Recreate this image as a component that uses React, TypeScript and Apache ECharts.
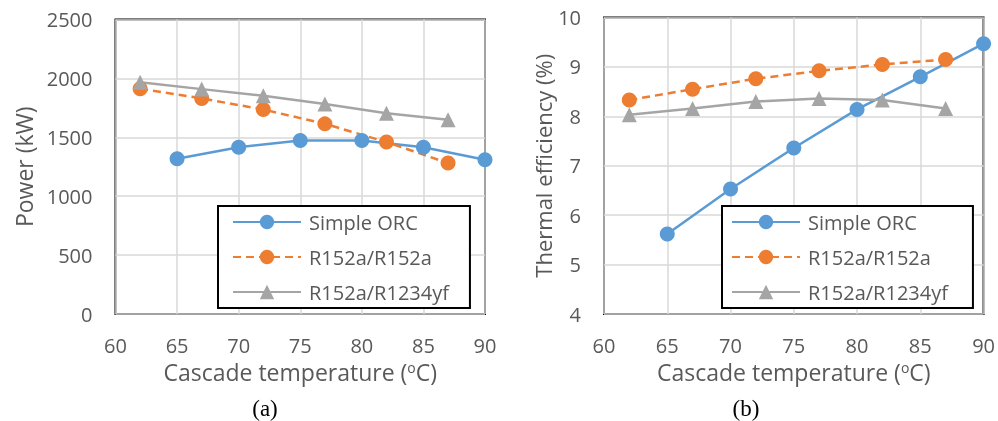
import React, { useEffect, useRef } from "react";
import * as echarts from "echarts";

const orcTemps = [65, 70, 75, 80, 85, 90];
const cascadeTemps = [62, 67, 72, 77, 82, 87];

const powerORC = [1318, 1416, 1472, 1472, 1416, 1310];
const powerR152a = [1912, 1830, 1736, 1614, 1460, 1281];
const powerR1234yf = [1968, 1909, 1852, 1783, 1704, 1648];

const effORC = [5.62, 6.53, 7.36, 8.14, 8.8, 9.47];
const effR152a = [8.33, 8.55, 8.76, 8.92, 9.05, 9.15];
const effR1234yf = [8.03, 8.16, 8.3, 8.36, 8.33, 8.16];

const seriesNames = ["Simple ORC", "R152a/R152a", "R152a/R1234yf"];
const colors = ["#5B9BD5", "#ED7D31", "#A5A5A5"];
const panelLabels = ["(a)", "(b)"];

const FONT = "'Open Sans', Lato, sans-serif";
const TXT = "#595959";

const pairs = (xs: number[], ys: number[]) => xs.map((x, i) => [x, ys[i]]);

export default function App() {
  const ref = useRef<HTMLDivElement>(null);
  useEffect(() => {
    if (!ref.current) return;
    const chart = echarts.init(ref.current, null, { renderer: "svg" });

    const xAxisBase = (gridIndex: number) => ({
      type: "value",
      gridIndex,
      min: 60,
      max: 90,
      interval: 5,
      axisLine: { show: false },
      axisTick: { show: false },
      splitLine: { show: true, lineStyle: { color: "#D9D9D9", width: 1.5 } },
      axisLabel: { color: TXT, fontSize: 20, fontFamily: FONT, margin: 21 },
      name: "Cascade temperature ({sup|o}C)",
      nameLocation: "middle",
      nameGap: 46,
      nameTextStyle: {
        color: TXT,
        fontSize: 23,
        fontFamily: FONT,
        rich: {
          sup: { fontSize: 14, color: TXT, fontFamily: FONT, verticalAlign: "top", padding: [0, 0, 10, 0] },
        },
      },
    });

    const lineSeries = (name: string, idx: number, gi: number, data: number[][], symbol: string, dashed: boolean) => ({
      type: "line",
      name,
      xAxisIndex: gi,
      yAxisIndex: gi,
      data,
      symbol,
      symbolSize: 15,
      showSymbol: true,
      itemStyle: { color: colors[idx] },
      lineStyle: { color: colors[idx], width: 2.5, type: dashed ? [8, 5] : "solid" },
      emphasis: { disabled: true },
    });

    const legendBase = (left: number, padLeft: number, textWidth: number, padRight: number) => ({
      orient: "vertical",
      left,
      top: 206,
      backgroundColor: "#fff",
      borderColor: "#000",
      borderWidth: 2,
      padding: [6, padRight, 6, padLeft],
      itemGap: 15,
      itemWidth: 68,
      itemHeight: 18,
      textStyle: { color: TXT, fontSize: 20, fontFamily: FONT, width: textWidth, padding: [0, 0, 0, 3] },
      data: seriesNames,
      selectedMode: false,
    });

    chart.setOption({
      animation: false,
      grid: [
        { left: 115.5, top: 19.5, width: 369.5, height: 294.5, show: true, borderColor: "#000", borderWidth: 2, backgroundColor: "transparent" },
        { left: 604, top: 17.5, width: 381, height: 296.5, show: true, borderColor: "#000", borderWidth: 2, backgroundColor: "transparent" },
      ],
      xAxis: [xAxisBase(0), xAxisBase(1)],
      yAxis: [
        {
          type: "value",
          gridIndex: 0,
          min: 0,
          max: 2500,
          interval: 500,
          axisLine: { show: false },
          axisTick: { show: false },
          splitLine: { show: true, lineStyle: { color: "#D9D9D9", width: 1.5 } },
          axisLabel: { color: TXT, fontSize: 20, fontFamily: FONT, margin: 23, formatter: (v: number) => String(v) },
          name: "Power (kW)",
          nameLocation: "middle",
          nameGap: 80,
          nameTextStyle: { color: TXT, fontSize: 23, fontFamily: FONT },
        },
        {
          type: "value",
          gridIndex: 1,
          min: 4,
          max: 10,
          interval: 1,
          axisLine: { show: false },
          axisTick: { show: false },
          splitLine: { show: true, lineStyle: { color: "#D9D9D9", width: 1.5 } },
          axisLabel: { color: TXT, fontSize: 20, fontFamily: FONT, margin: 23, formatter: (v: number) => String(v) },
          name: "Thermal efficiency (%)",
          nameLocation: "middle",
          nameGap: 49,
          nameTextStyle: { color: TXT, fontSize: 22, fontFamily: FONT },
        },
      ],
      legend: [legendBase(218, 14, 150, 21), legendBase(722, 9, 150, 25)],
      series: [
        lineSeries(seriesNames[0], 0, 0, pairs(orcTemps, powerORC), "circle", false),
        lineSeries(seriesNames[1], 1, 0, pairs(cascadeTemps, powerR152a), "circle", true),
        lineSeries(seriesNames[2], 2, 0, pairs(cascadeTemps, powerR1234yf), "triangle", false),
        lineSeries(seriesNames[0], 0, 1, pairs(orcTemps, effORC), "circle", false),
        lineSeries(seriesNames[1], 1, 1, pairs(cascadeTemps, effR152a), "circle", true),
        lineSeries(seriesNames[2], 2, 1, pairs(cascadeTemps, effR1234yf), "triangle", false),
      ],
      graphic: [
        {
          type: "text",
          x: 265,
          y: 408,
          style: { text: panelLabels[0], fill: "#000", font: "23px 'Liberation Serif', 'Times New Roman', serif", textAlign: "center", textVerticalAlign: "middle" },
        },
        {
          type: "text",
          x: 746,
          y: 408,
          style: { text: panelLabels[1], fill: "#000", font: "23px 'Liberation Serif', 'Times New Roman', serif", textAlign: "center", textVerticalAlign: "middle" },
        },
      ],
    });
    return () => chart.dispose();
  }, []);
  return <div ref={ref} style={{ position: "fixed", left: 0, top: 0, width: 998, height: 421 }} />;
}
